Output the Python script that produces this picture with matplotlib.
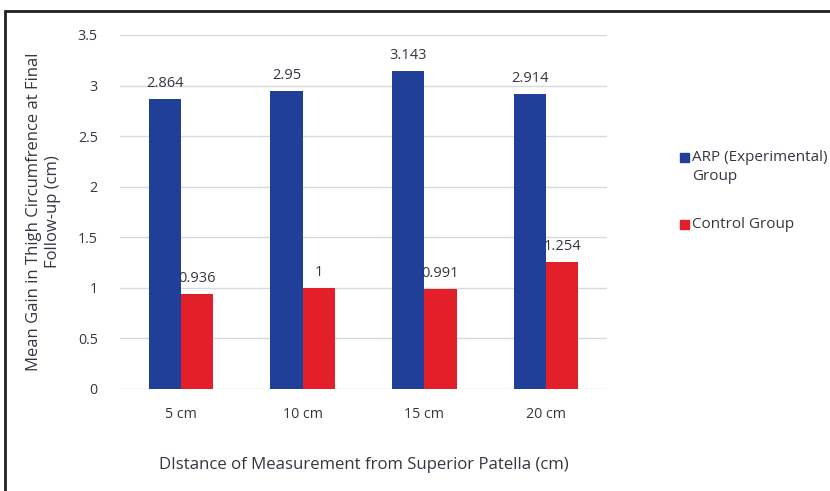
import matplotlib.pyplot as plt
import numpy as np
from matplotlib.patches import Rectangle

distances = ["5 cm", "10 cm", "15 cm", "20 cm"]
arp_gain = [2.864, 2.95, 3.143, 2.914]
control_gain = [0.936, 1, 0.991, 1.254]
arp_labels = ["2.864", "2.95", "3.143", "2.914"]
control_labels = ["0.936", "1", "0.991", "1.254"]
series_names = ["ARP (Experimental)\nGroup", "Control Group"]

blue = "#203f99"
red = "#e3202a"
text_c = "#3b3342"

plt.rcParams["font.family"] = ["Open Sans", "DejaVu Sans"]

W, H = 830, 491
fig = plt.figure(figsize=(W / 100, H / 100), dpi=100)
ax = fig.add_axes([120 / W, 1 - 389 / H, 487 / W, 354 / H])

x = np.arange(len(distances))
w = 0.264
ax.bar(x - w / 2, arp_gain, w, color=blue, zorder=3)
ax.bar(x + w / 2, control_gain, w, color=red, zorder=3)

for xi, v, s in zip(x, arp_gain, arp_labels):
    ax.text(xi - w / 2, v + 0.08, s, ha="center", va="bottom", fontsize=10.5, color=text_c)
for xi, v, s in zip(x, control_gain, control_labels):
    ax.text(xi + w / 2, v + 0.08, s, ha="center", va="bottom", fontsize=10.5, color=text_c)

ax.set_xlim(-0.5, 3.5)
ax.set_ylim(0, 3.5)
ax.set_yticks(np.arange(0, 3.51, 0.5))
ax.set_yticklabels(["0", "0.5", "1", "1.5", "2", "2.5", "3", "3.5"])
ax.set_xticks(x)
ax.set_xticklabels(distances)
ax.grid(axis="y", color="#d9d9d9", linewidth=1, zorder=0)
for sp in ax.spines.values():
    sp.set_visible(False)
ax.tick_params(length=0, labelsize=10.3, colors=text_c, pad=13)
ax.tick_params(axis="y", pad=16)

ax.set_ylabel("Mean Gain in Thigh Circumfrence at Final\nFollow-up (cm)",
              fontsize=12, color=text_c, labelpad=12, linespacing=1.3)
ax.set_xlabel("DIstance of Measurement from Superior Patella (cm)",
              fontsize=12.1, color=text_c, labelpad=25)

# legend: square swatch next to the first line of each entry
for name, col, y in zip(series_names, [blue, red], [157.5, 225]):
    fig.patches.append(Rectangle((679.5 / W, 1 - (y + 4.5) / H), 9 / W, 9 / H,
                                 transform=fig.transFigure, color=col))
    fig.text(692 / W, 1 - (y - 7.5) / H, name, ha="left", va="top", fontsize=11,
             color=text_c, linespacing=1.37)

# outer frame along the top and left edges
fig.patches.append(Rectangle((5 / W, -0.1), 1.2, 1 - 11 / H + 0.1,
                             transform=fig.transFigure, fill=False,
                             edgecolor="#231f20", linewidth=2))

fig.savefig("out.png", dpi=100)
